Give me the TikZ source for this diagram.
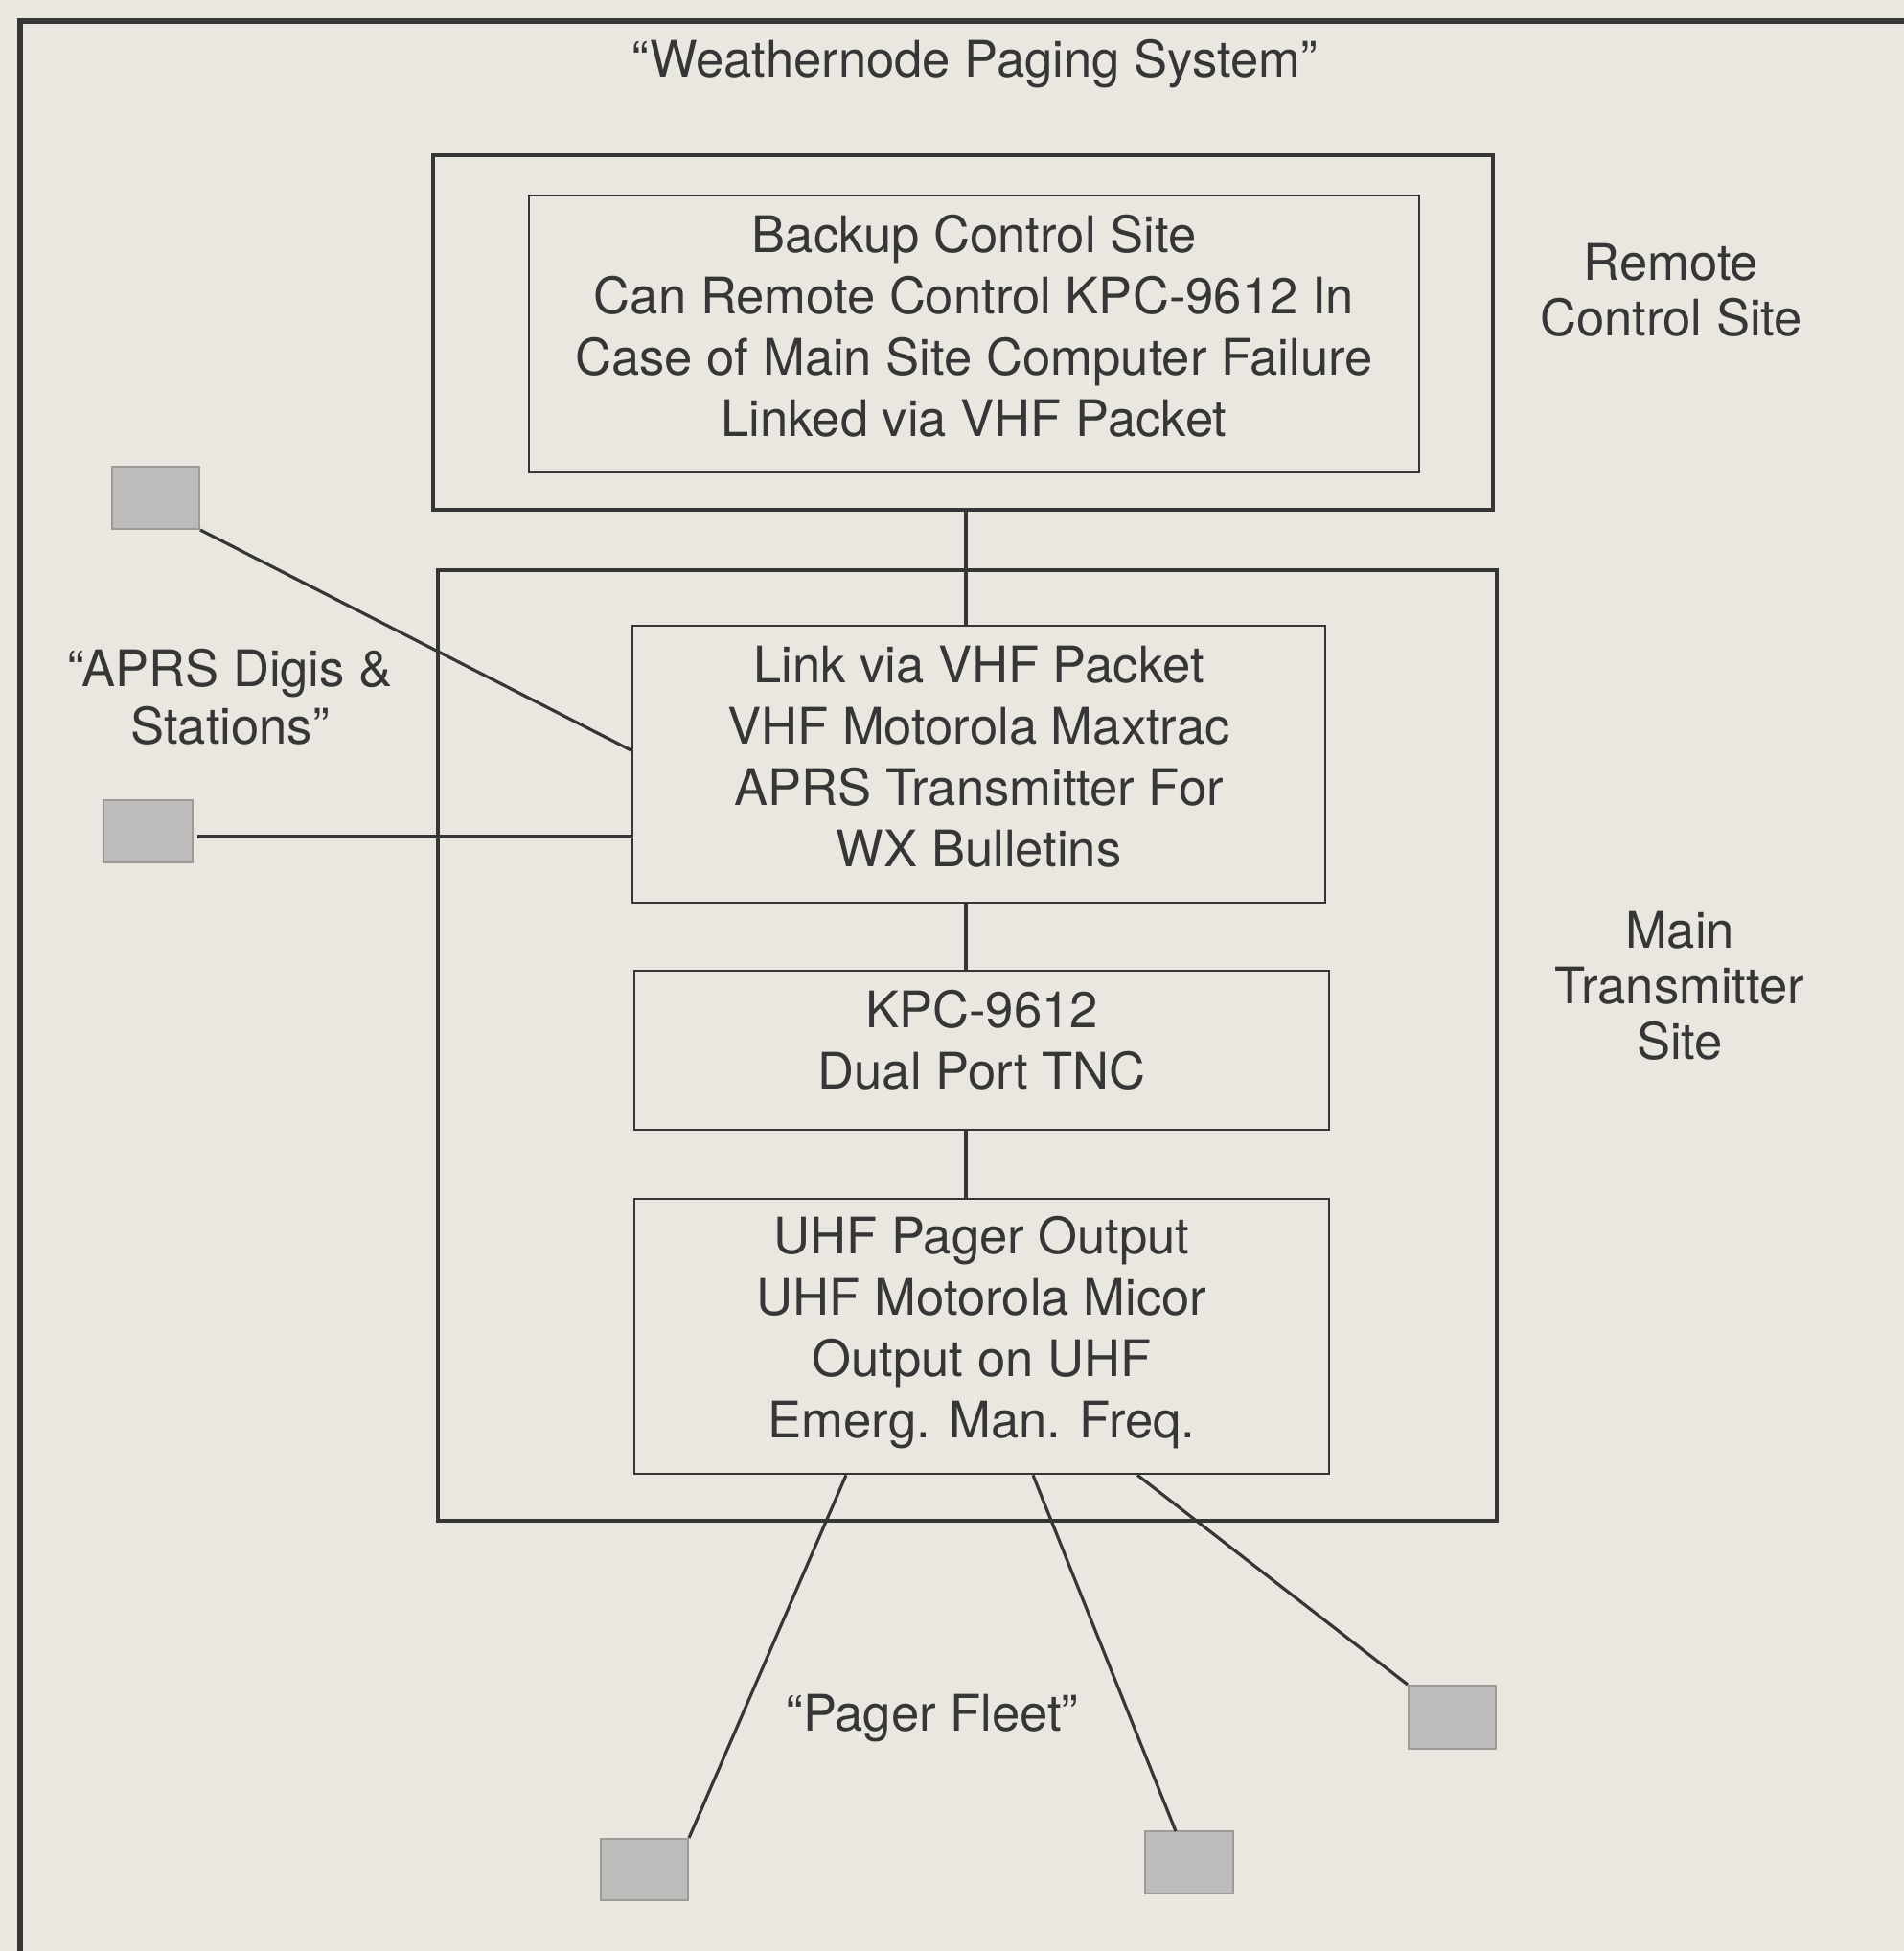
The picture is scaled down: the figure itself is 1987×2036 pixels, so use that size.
\documentclass[tikz,border=0pt]{standalone}
\usepackage{fontspec}
\setmainfont{TeX Gyre Heros}
\definecolor{paper}{HTML}{E9E7E0}
\definecolor{ink}{HTML}{363636}
\definecolor{padfill}{HTML}{BDBCBA}
\definecolor{padedge}{HTML}{9C9B98}
\begin{document}
\begin{tikzpicture}[x=0.5pt,y=-0.5pt,
  txt/.style={text=ink,font=\fontsize{26.3}{32}\selectfont,align=center,inner sep=0pt},
  sidelabel/.style={text=ink,font=\fontsize{26.3}{29}\selectfont,align=center,inner sep=0pt},
  sitebox/.style={draw=ink,line width=2.2pt,inner sep=0pt},
  unitbox/.style={draw=ink,line width=1.3pt,inner sep=0pt},
  pad/.style={draw=padedge,fill=padfill,line width=1pt,inner sep=0pt},
  wire/.style={draw=ink,line width=1.6pt}]
\useasboundingbox (0,0) rectangle (1987,2036);
\fill[paper] (0,0) rectangle (1987,2036);
% outer frame (open to right and bottom)
\draw[ink,line width=2.6pt] (21,2040) -- (21,22) -- (1990,22);
% title
\node[txt] (title) at (1017,67) {“Weathernode Paging System”};
% remote control site
\node[sitebox,minimum width=553pt,minimum height=185pt] (remote) at (1005,347) {};
\node[unitbox,minimum width=464.5pt,minimum height=144.5pt,
  label={[txt,yshift=4pt]center:{Backup Control Site\\Can Remote Control KPC-9612 In\\Case of Main Site Computer Failure\\Linked via VHF Packet}}]
  (backup) at (1016.5,348.5) {};
\node[sidelabel] (remotelbl) at (1744,303) {Remote\\Control Site};
% main transmitter site
\node[sitebox,minimum width=552.5pt,minimum height=496pt] (main) at (1009.5,1091) {};
\node[unitbox,minimum width=361.5pt,minimum height=144.5pt,
  label={[txt,yshift=4pt]center:{Link via VHF Packet\\VHF Motorola Maxtrac\\APRS Transmitter For\\WX Bulletins}}]
  (vhf) at (1021.5,797.5) {};
\node[unitbox,minimum width=362.5pt,minimum height=83pt,
  label={[txt,yshift=5.5pt]center:{KPC-9612\\Dual Port TNC}}]
  (kpc) at (1024.5,1096) {};
\node[unitbox,minimum width=362.5pt,minimum height=143.5pt,
  label={[txt,yshift=2pt]center:{UHF Pager Output\\UHF Motorola Micor\\Output on UHF\\Emerg. Man. Freq.}}]
  (uhf) at (1024.5,1394.5) {};
\node[sidelabel] (mainlbl) at (1753,1029) {Main\\Transmitter\\Site};
% vertical links
\coordinate (cx) at (1008,0);
\draw[wire] (remote.south -| cx) -- (vhf.north -| cx);
\draw[wire] (vhf.south -| cx) -- (kpc.north -| cx);
\draw[wire] (kpc.south -| cx) -- (uhf.north -| cx);
% APRS stations
\node[sidelabel,font=\fontsize{26.3}{30}\selectfont] (aprslbl) at (240,727) {“APRS Digis \&\\Stations”};
\node[pad,minimum width=45.5pt,minimum height=32.5pt] (sq1) at (162.5,519.5) {};
\node[pad,minimum width=46.5pt,minimum height=32.5pt] (sq2) at (154.5,867.5) {};
\coordinate (a1) at (0,783);
\draw[wire] (sq1.south east) -- (vhf.west |- a1);
\coordinate (a2) at (206,873);
\draw[wire] (a2) -- (vhf.west |- a2);
% pager fleet
\node[txt] (fleet) at (973,1793) {“Pager Fleet”};
\node[pad,minimum width=45.5pt,minimum height=32pt] (p1) at (672.5,1951) {};
\node[pad,minimum width=46pt,minimum height=32.5pt] (p2) at (1240.5,1943.5) {};
\node[pad,minimum width=45.5pt,minimum height=33pt] (p3) at (1515.5,1792) {};
\coordinate (u1) at (883,0);
\coordinate (u2) at (1078,0);
\coordinate (u3) at (1187,0);
\coordinate (t2) at (1227,1911);
\draw[wire] (p1.north east) -- (uhf.south -| u1);
\draw[wire] (t2) -- (uhf.south -| u2);
\draw[wire] (p3.north west) -- (uhf.south -| u3);
\end{tikzpicture}
\end{document}
